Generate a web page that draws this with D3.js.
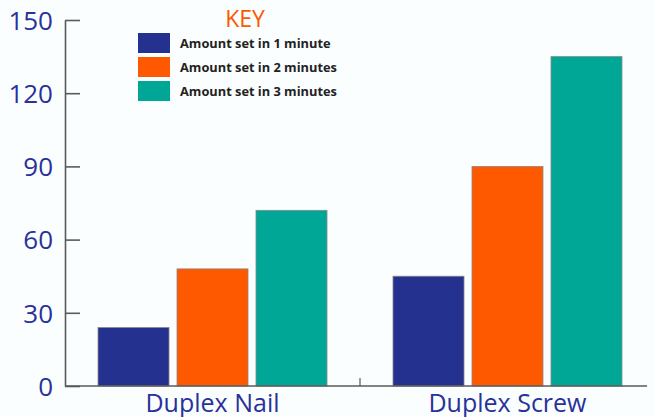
<!DOCTYPE html>
<html>
<head>
<meta charset="utf-8">
<script src="https://cdn.jsdelivr.net/npm/d3@7"></script>
<style>
  body { margin: 0; background: #fbfefe; }
  svg { display: block; }
</style>
</head>
<body>
<svg id="chart"></svg>
<script>
  const categories = ['Duplex Nail', 'Duplex Screw'];
  const seriesNames = ['Amount set in 1 minute', 'Amount set in 2 minutes', 'Amount set in 3 minutes'];
  const oneMinute = [24, 45];
  const twoMinutes = [48, 90];
  const threeMinutes = [72, 135];
  const yTicks = [0, 30, 60, 90, 120, 150];

  const WIDTH = 655;
  const HEIGHT = 417;
  const AXIS_LEFT = 65;
  const AXIS_RIGHT = 647;
  const colors = ['#24318f', '#fe5800', '#00a796'];
  const fontFam = '"Open Sans", "Noto Sans", sans-serif';

  const seriesValues = [oneMinute, twoMinutes, threeMinutes];
  const data = categories.map((c, i) => ({
    category: c,
    values: seriesNames.map((s, k) => ({ series: s, idx: k, value: seriesValues[k][i] }))
  }));

  const svg = d3.select('#chart')
    .attr('width', WIDTH)
    .attr('height', HEIGHT);

  const y = d3.scaleLinear().domain([0, 150]).range([386, 20]);
  const x0 = d3.scaleBand().domain(categories).range([98, 622]).paddingInner(0.2237).paddingOuter(0);
  const x1 = d3.scaleBand().domain(seriesNames).range([0, x0.bandwidth()]).paddingInner(0.101).paddingOuter(0);

  // bars
  const groups = svg.selectAll('.group')
    .data(data)
    .enter().append('g')
    .attr('class', 'group')
    .attr('transform', d => `translate(${x0(d.category)},0)`);

  groups.selectAll('rect')
    .data(d => d.values)
    .enter().append('rect')
    .attr('x', d => x1(d.series))
    .attr('y', d => y(d.value))
    .attr('width', x1.bandwidth())
    .attr('height', d => y(0) - y(d.value))
    .attr('fill', d => colors[d.idx])
    .attr('stroke', '#8a8a8a')
    .attr('stroke-width', 0.8);

  // y axis
  const yAxis = svg.append('g')
    .attr('transform', `translate(${AXIS_LEFT},0)`)
    .call(d3.axisRight(y).tickValues(yTicks).tickSize(15).tickSizeOuter(0).tickFormat(d3.format('d')));
  yAxis.select('.domain').attr('stroke', '#5a5a5a').attr('stroke-width', 1.6);
  yAxis.selectAll('.tick line').attr('stroke', '#5a5a5a').attr('stroke-width', 1.6);
  yAxis.selectAll('.tick text')
    .attr('x', -12)
    .attr('dy', '0.36em')
    .attr('text-anchor', 'end')
    .attr('fill', '#29319a')
    .style('font-family', fontFam)
    .style('font-size', '26px');

  // x axis line
  svg.append('line')
    .attr('x1', AXIS_LEFT).attr('x2', AXIS_RIGHT)
    .attr('y1', y(0)).attr('y2', y(0))
    .attr('stroke', '#5a5a5a').attr('stroke-width', 1.6);

  // divider tick between groups
  const midX = (x0(categories[0]) + x0.bandwidth() + x0(categories[1])) / 2;
  svg.append('line')
    .attr('x1', midX).attr('x2', midX)
    .attr('y1', y(0)).attr('y2', y(0) - 8)
    .attr('stroke', '#5a5a5a').attr('stroke-width', 1.2);

  // category labels
  svg.selectAll('.cat-label')
    .data(categories)
    .enter().append('text')
    .attr('class', 'cat-label')
    .attr('x', d => x0(d) + x0.bandwidth() / 2)
    .attr('y', 412)
    .attr('text-anchor', 'middle')
    .attr('fill', '#29319a')
    .style('font-family', fontFam)
    .style('font-size', '25px')
    .text(d => d);

  // legend
  svg.append('text')
    .attr('x', 245)
    .attr('y', 27)
    .attr('text-anchor', 'middle')
    .attr('fill', '#fe5800')
    .style('font-family', fontFam)
    .style('font-size', '23px')
    .text('KEY');

  const legend = svg.selectAll('.legend-item')
    .data(seriesNames)
    .enter().append('g')
    .attr('class', 'legend-item')
    .attr('transform', (d, i) => `translate(138,${33 + i * 24})`);

  legend.append('rect')
    .attr('width', 32)
    .attr('height', 20)
    .attr('fill', (d, i) => colors[i]);

  legend.append('text')
    .attr('x', 42)
    .attr('y', 10)
    .attr('dy', '0.36em')
    .attr('fill', '#222')
    .style('font-family', fontFam)
    .style('font-size', '12.8px')
    .style('font-weight', 'bold')
    .text(d => d);
</script>
</body>
</html>
